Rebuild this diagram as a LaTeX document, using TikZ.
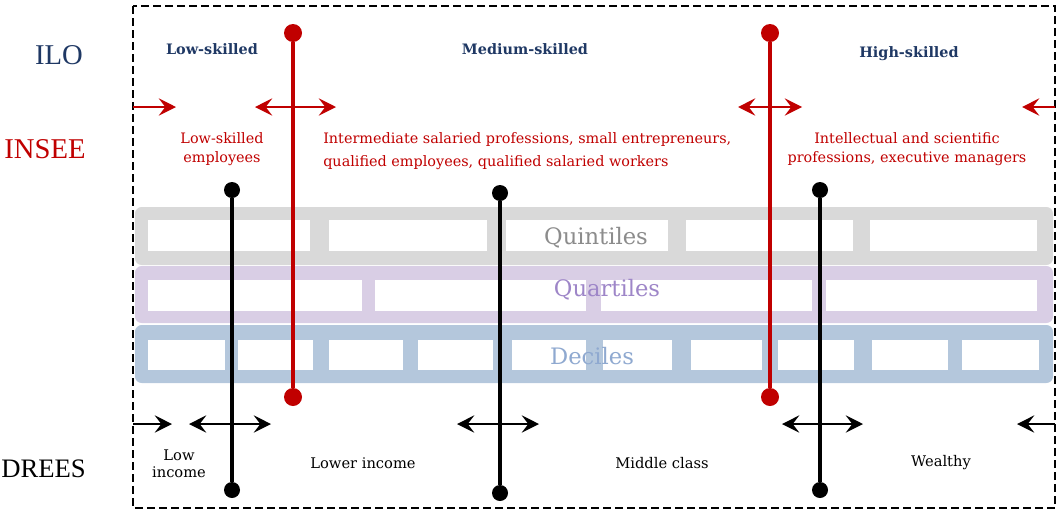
\documentclass[tikz,border=0pt]{standalone}
\usepackage{fontspec}
\setmainfont{Liberation Serif}
\newfontfamily\slab{DejaVu Serif}
\usetikzlibrary{arrows.meta}
\definecolor{ilored}{HTML}{C00000}
\definecolor{ilonavy}{HTML}{1F3864}
\definecolor{quintband}{HTML}{D9D9D9}
\definecolor{quartband}{HTML}{D9CEE5}
\definecolor{decband}{HTML}{B4C7DC}
\definecolor{quinttext}{HTML}{8C8C8C}
\definecolor{quarttext}{HTML}{9E86C8}
\definecolor{dectext}{HTML}{8FA9D0}
\tikzset{
  biglabel/.style={font=\fontsize{21.5}{25}\selectfont, inner sep=0pt},
  skill/.style={font=\slab\bfseries\fontsize{10.8}{12}\selectfont, text=ilonavy, inner sep=0pt},
  insee/.style={font=\slab\fontsize{10.8}{17}\selectfont, text=ilored, inner sep=0pt, align=center},
  inseetight/.style={insee, font=\slab\fontsize{10.8}{14}\selectfont},
  drees/.style={font=\slab\fontsize{11}{13}\selectfont, text=black, inner sep=0pt, align=center},
  bandlabel/.style={font=\slab\fontsize{17}{19}\selectfont, inner sep=0pt},
  reddot/.style={circle, fill=ilored, minimum size=13.5pt, inner sep=0pt},
  blackdot/.style={circle, fill=black, minimum size=12pt, inner sep=0pt},
  redline/.style={draw=ilored, line width=2.3pt},
  blackline/.style={draw=black, line width=2.6pt},
  redarrow/.style={draw=ilored, line width=1.1pt, arrows={-Stealth[length=13pt,width=13pt,inset=5pt]}},
  redboth/.style={draw=ilored, line width=1.1pt, arrows={Stealth[length=13pt,width=13pt,inset=5pt]-Stealth[length=13pt,width=13pt,inset=5pt]}},
  blackarrow/.style={draw=black, line width=1.1pt, arrows={-Stealth[length=13pt,width=13pt,inset=5pt]}},
  blackboth/.style={draw=black, line width=1.1pt, arrows={Stealth[length=13pt,width=13pt,inset=5pt]-Stealth[length=13pt,width=13pt,inset=5pt]}},
}
\begin{document}
\begin{tikzpicture}[x=0.75pt,y=-0.75pt]
\useasboundingbox (0,0) rectangle (1059,511);

% bands
\fill[quintband, rounded corners=5pt] (135,207) rectangle (1053,265);
\fill[quartband, rounded corners=5pt] (135,266) rectangle (1053,323);
\fill[decband, rounded corners=5pt] (135,325) rectangle (1053,383);
% quintile boxes
\foreach \a/\b in {148/310, 329/487, 506/668, 686/853, 870/1037}
  \fill[white] (\a,220) rectangle (\b,251);
% quartile boxes
\foreach \a/\b in {148/362, 375/586, 601/812, 826/1037}
  \fill[white] (\a,280) rectangle (\b,311);
% decile boxes
\foreach \a/\b in {148/225, 238/313, 329/403, 418/493, 512/586, 603/672, 691/762, 778/854, 872/948, 962/1039}
  \fill[white] (\a,340) rectangle (\b,370);

\node[bandlabel, text=quinttext] (quint) at (596,238) {Quintiles};
\node[bandlabel, text=quarttext] (quart) at (607,290) {Quartiles};
\node[bandlabel, text=dectext] (dec) at (592,356) {Deciles};

% frame
\draw[line width=2pt, dash pattern=on 6pt off 3pt] (133,6) rectangle (1055,508);
\coordinate (L1) at (133,107);
\coordinate (R1) at (1055,107);
\coordinate (L2) at (133,424);
\coordinate (R2) at (1055,424);

% left labels
\node[biglabel, text=ilonavy] (ilo) at (59,55) {ILO};
\node[biglabel, text=ilored] (insee) at (45,149) {INSEE};
\node[biglabel, text=black, anchor=west, font=\fontsize{20}{24}\selectfont] (drees) at (1,469) {DREES};

% ILO labels
\node[skill] (low) at (212,49) {Low-skilled};
\node[skill] (med) at (525,49) {Medium-skilled};
\node[skill] (high) at (909,54) {High-skilled};

% INSEE labels
\node[inseetight] (i1) at (222,149) {Low-skilled\\employees};
\node[insee, align=left, anchor=west] (i2) at (323,151) {Intermediate salaried professions, small entrepreneurs,\\qualified employees, qualified salaried workers};
\node[inseetight] (i3) at (907,149) {Intellectual and scientific\\professions, executive managers};

% DREES labels
\node[drees] (d1) at (179,464) {Low\\income};
\node[drees] (d2) at (363,463) {Lower income};
\node[drees] (d3) at (662,463) {Middle class};
\node[drees] (d4) at (941,463) {Wealthy};

% red arrows
\coordinate (ra1) at (176,107);
\coordinate (ra2a) at (255,107);
\coordinate (ra2b) at (336,107);
\coordinate (ra3a) at (738,107);
\coordinate (ra3b) at (802,107);
\coordinate (ra4) at (1022,107);
\draw[redarrow] (L1) -- (ra1);
\draw[redboth] (ra2a) -- (ra2b);
\draw[redboth] (ra3a) -- (ra3b);
\draw[redarrow] (R1) -- (ra4);

% black arrows
\coordinate (ba1) at (172,424);
\coordinate (ba2a) at (189,424);
\coordinate (ba2b) at (271,424);
\coordinate (ba3a) at (457,424);
\coordinate (ba3b) at (539,424);
\coordinate (ba4a) at (782,424);
\coordinate (ba4b) at (863,424);
\coordinate (ba5) at (1017,424);
\draw[blackarrow] (L2) -- (ba1);
\draw[blackboth] (ba2a) -- (ba2b);
\draw[blackboth] (ba3a) -- (ba3b);
\draw[blackboth] (ba4a) -- (ba4b);
\draw[blackarrow] (R2) -- (ba5);

% red vertical separators
\node[reddot] (r1t) at (293,33) {};
\node[reddot] (r1b) at (293,397) {};
\node[reddot] (r2t) at (770,33) {};
\node[reddot] (r2b) at (770,397) {};
\draw[redline] (r1t) -- (r1b);
\draw[redline] (r2t) -- (r2b);

% black vertical separators
\node[blackdot] (b1t) at (232,190) {};
\node[blackdot] (b1b) at (232,490) {};
\node[blackdot] (b2t) at (500,193) {};
\node[blackdot] (b2b) at (500,493) {};
\node[blackdot] (b3t) at (820,190) {};
\node[blackdot] (b3b) at (820,490) {};
\draw[blackline] (b1t) -- (b1b);
\draw[blackline] (b2t) -- (b2b);
\draw[blackline] (b3t) -- (b3b);
\end{tikzpicture}
\end{document}
